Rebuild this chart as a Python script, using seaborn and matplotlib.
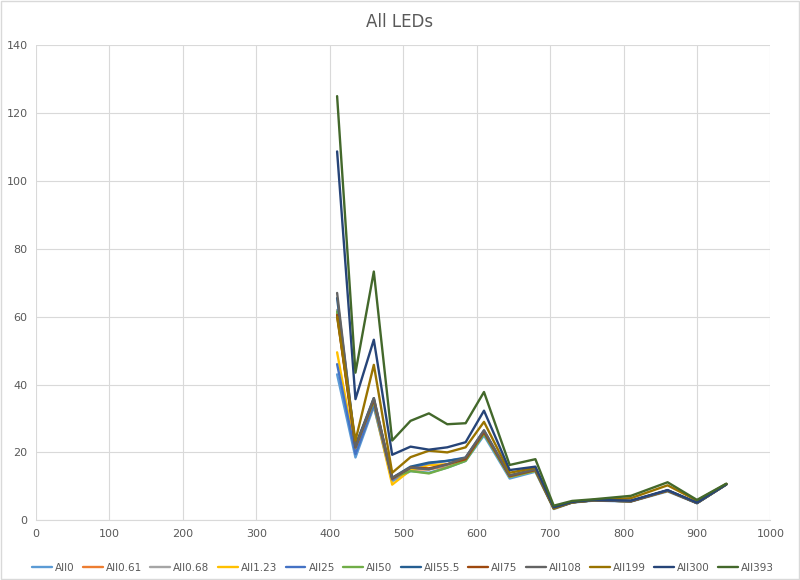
import numpy as np
import pandas as pd
import matplotlib
matplotlib.use("Agg")
import matplotlib.pyplot as plt
import seaborn as sns

# wavelength channels (nm)
wavelengths = [410, 435, 460, 485, 510, 535, 560, 585, 610, 645, 680, 705, 730, 760, 810, 860, 900, 940]

series_names = ["All0", "All0.61", "All0.68", "All1.23", "All25", "All50",
                "All55.5", "All75", "All108", "All199", "All300", "All393"]

all0 = [43.0, 18.5, 33.5, 11.5, 14.5, 14.0, 15.5, 17.5, 25.0, 12.3, 14.3, 3.3, 5.2, 5.8, 5.5, 8.5, 5.0, 10.5]
all061 = [61.0, 22.0, 35.0, 12.0, 15.0, 15.0, 16.0, 18.0, 26.0, 13.0, 14.8, 3.5, 5.3, 5.9, 5.6, 8.7, 5.1, 10.6]
all068 = [62.0, 22.0, 35.2, 12.2, 15.2, 15.2, 16.2, 18.0, 26.0, 13.0, 14.8, 3.5, 5.3, 5.9, 5.6, 8.7, 5.1, 10.6]
all123 = [49.5, 20.0, 34.0, 10.5, 14.8, 16.3, 16.5, 18.0, 26.0, 12.8, 14.6, 3.4, 5.3, 5.9, 5.6, 8.7, 5.1, 10.6]
all25 = [46.0, 19.5, 34.0, 12.0, 15.5, 16.8, 17.5, 18.5, 26.5, 13.0, 14.8, 3.5, 5.3, 5.9, 5.6, 8.8, 5.1, 10.6]
all50 = [61.5, 22.0, 35.0, 12.5, 14.5, 13.8, 15.5, 17.5, 25.5, 12.8, 14.6, 3.5, 5.3, 5.9, 5.6, 8.7, 5.1, 10.6]
all555 = [65.5, 22.0, 36.0, 12.5, 15.8, 17.0, 17.5, 18.3, 26.2, 13.2, 15.0, 3.6, 5.3, 5.9, 5.6, 8.8, 5.1, 10.6]
all75 = [60.5, 21.5, 35.5, 12.3, 15.5, 15.3, 16.5, 18.0, 26.0, 13.0, 14.8, 3.5, 5.3, 5.9, 5.6, 8.7, 5.1, 10.6]
all108 = [67.0, 21.5, 36.0, 12.5, 15.5, 15.0, 16.5, 18.5, 26.5, 13.2, 15.0, 3.6, 5.3, 5.9, 5.7, 8.8, 5.1, 10.6]
all199 = [60.0, 23.5, 45.8, 14.0, 18.6, 20.5, 20.0, 21.5, 29.0, 14.0, 15.5, 3.6, 5.3, 6.0, 6.5, 10.3, 5.8, 10.7]
all300 = [108.7, 35.7, 53.2, 19.3, 21.7, 20.8, 21.5, 23.0, 32.3, 14.8, 15.8, 3.8, 5.4, 6.0, 5.8, 8.9, 5.2, 10.6]
all393 = [125.0, 43.5, 73.3, 23.5, 29.3, 31.5, 28.3, 28.6, 37.8, 16.3, 18.0, 4.3, 5.7, 6.2, 7.2, 11.2, 6.0, 10.8]

colors = ["#5B9BD5", "#ED7D31", "#A5A5A5", "#FFC000", "#4472C4", "#70AD47",
          "#255E91", "#9E480E", "#636363", "#997300", "#264478", "#43682B"]

values = [all0, all061, all068, all123, all25, all50, all555, all75, all108, all199, all300, all393]
df = pd.concat([pd.DataFrame({"wavelength": wavelengths, "value": v, "series": name})
                for name, v in zip(series_names, values)], ignore_index=True)

sns.set_style("white")
plt.rcParams['font.family'] = ['DejaVu Sans']

fig = plt.figure(figsize=(8, 5.8), dpi=100)
ax = fig.add_axes([0.045, 0.103, 0.918, 0.819])
sns.lineplot(data=df, x="wavelength", y="value", hue="series", hue_order=series_names,
             palette=colors, linewidth=1.7, ax=ax, sort=False, estimator=None)

ax.set_xlim(0, 1000)
ax.set_ylim(0, 140)
ax.set_xticks(np.arange(0, 1001, 100))
ax.set_yticks(np.arange(0, 141, 20))
ax.grid(True, color="#D9D9D9", linewidth=0.8)
ax.set_axisbelow(True)
for side, sp in ax.spines.items():
    sp.set_visible(side == "bottom")
    sp.set_color("#D9D9D9")
ax.tick_params(axis="both", length=0, labelsize=8, colors="#595959", pad=6)
ax.set_xlabel("")
ax.set_ylabel("")

fig.text(0.5, 0.962, "All LEDs", ha="center", va="center", fontsize=12, color="#595959")

handles, labels = ax.get_legend_handles_labels()
ax.legend(handles, labels, loc="center", bbox_to_anchor=(0.5, -0.1), ncol=12, frameon=False,
          fontsize=7.5, handlelength=1.9, handletextpad=0.3, columnspacing=0.8, labelcolor="#595959")

fig.patches.append(plt.Rectangle((0.001, 0.001), 0.998, 0.998, transform=fig.transFigure,
                                 fill=False, edgecolor="#D9D9D9", linewidth=1))

fig.savefig("out.png", dpi=100)
